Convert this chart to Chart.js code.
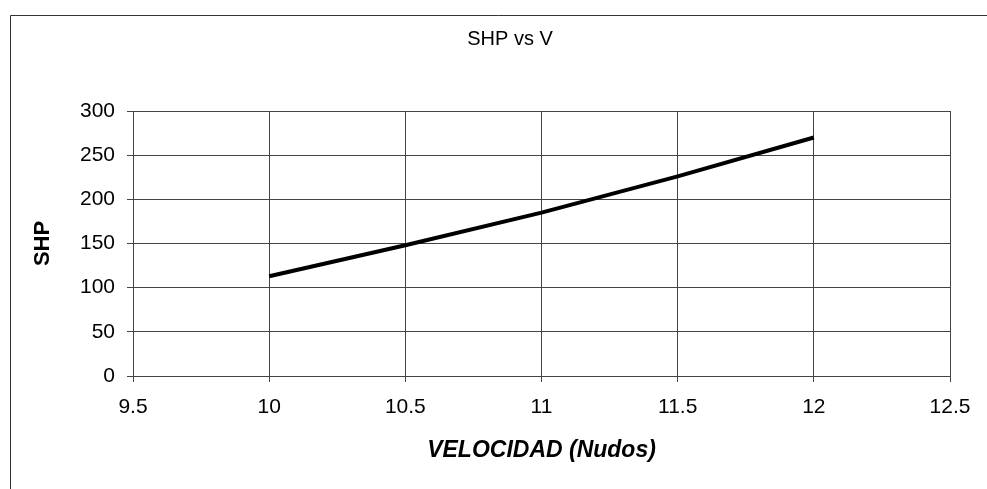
<!DOCTYPE html>
<html>
<head>
<meta charset="utf-8">
<script src="https://cdn.jsdelivr.net/npm/chart.js@4"></script>
<style>
  html, body { margin: 0; padding: 0; background: #fff; }
  #wrap { width: 987px; height: 489px; }
</style>
</head>
<body>
<div id="wrap"><canvas id="grafico_shp"></canvas></div>
<script>
// datos
const velocidades = [10, 10.5, 11, 11.5, 12]
const shp = [113, 148, 185, 226, 270]
const ticksX = [9.5, 10, 10.5, 11, 11.5, 12, 12.5]
const ticksY = [0, 50, 100, 150, 200, 250, 300]

Chart.defaults.color = '#000'
Chart.defaults.font.family = 'Arial, "Liberation Sans", sans-serif'

const puntos = velocidades.map((v, i) => ({ x: v, y: shp[i] }))

// marco exterior (solo borde izquierdo y superior visibles)
const marco = {
  id: 'marco',
  beforeDraw(chart) {
    const c = chart.ctx
    c.save()
    c.strokeStyle = '#333'
    c.lineWidth = 1
    c.beginPath()
    c.moveTo(10.5, 489)
    c.lineTo(10.5, 15.5)
    c.lineTo(987, 15.5)
    c.stroke()
    c.restore()
  },
  // el título no queda centrado sobre el área del gráfico
  afterLayout(chart) {
    if (chart.titleBlock) {
      chart.titleBlock.left = 70
      chart.titleBlock.right = 950
    }
  }
}

const config = {
  type: 'scatter',
  data: {
    datasets: [{
      data: puntos,
      showLine: true,
      borderColor: '#000',
      borderWidth: 4,
      pointRadius: 0,
      tension: 0
    }]
  },
  options: {
    responsive: true,
    maintainAspectRatio: false,
    animation: false,
    layout: { padding: { left: 10, right: 37, top: 0, bottom: 0 } },
    plugins: {
      legend: { display: false },
      tooltip: { enabled: false },
      title: {
        display: true,
        text: 'SHP vs V',
        font: { size: 20, weight: 'normal' },
        padding: { top: 27, bottom: 60 }
      }
    },
    scales: {
      x: {
        type: 'linear',
        min: 9.5,
        max: 12.5,
        afterBuildTicks: s => { s.ticks = ticksX.map(v => ({ value: v })) },
        afterFit: s => { s.height = 113 },
        grid: { color: '#444', lineWidth: 1, tickLength: 6 },
        border: { color: '#444' },
        ticks: { font: { size: 21 }, padding: 13, maxRotation: 0, callback: v => String(v) },
        title: {
          display: true,
          text: 'VELOCIDAD (Nudos)',
          font: { size: 23, weight: 'bold', style: 'italic' },
          padding: { top: 4, bottom: 25 }
        }
      },
      y: {
        min: 0,
        max: 300,
        afterBuildTicks: s => { s.ticks = ticksY.map(v => ({ value: v })) },
        afterFit: s => { s.width = 123 },
        grid: { color: '#444', lineWidth: 1, tickLength: 6 },
        border: { color: '#444' },
        ticks: { font: { size: 21 }, padding: 12 },
        title: {
          display: true,
          text: 'SHP',
          font: { size: 22, weight: 'bold' },
          padding: { top: 20, bottom: 4 }
        }
      }
    }
  },
  plugins: [marco]
}

new Chart(document.getElementById('grafico_shp'), config)
</script>
</body>
</html>
